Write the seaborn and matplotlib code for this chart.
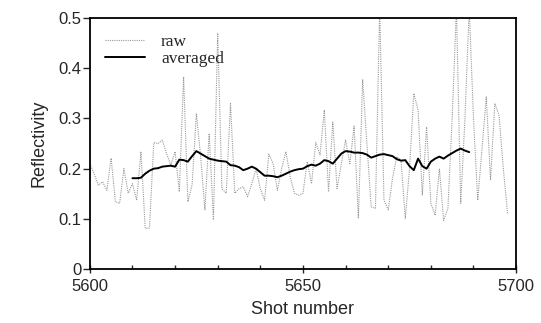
import numpy as np
import pandas as pd
import seaborn as sns
import matplotlib.pyplot as plt

# --- data ---
raw_shot = list(range(5600, 5699))
raw_refl = [
    0.21, 0.19, 0.167, 0.174, 0.157, 0.221, 0.134, 0.131, 0.20, 0.151,
    0.17, 0.137, 0.234, 0.081, 0.082, 0.252, 0.25, 0.257, 0.23, 0.207,
    0.234, 0.154, 0.383, 0.134, 0.168, 0.31, 0.224, 0.118, 0.27, 0.098,
    0.47, 0.16, 0.151, 0.33, 0.151, 0.16, 0.164, 0.144, 0.17, 0.20,
    0.16, 0.137, 0.229, 0.21, 0.157, 0.2, 0.234, 0.184, 0.151, 0.147,
    0.151, 0.214, 0.17, 0.252, 0.227, 0.317, 0.154, 0.293, 0.16, 0.21,
    0.257, 0.21, 0.285, 0.101, 0.378, 0.25, 0.124, 0.121, 0.52, 0.137,
    0.118, 0.18, 0.224, 0.217, 0.101, 0.2, 0.35, 0.317, 0.147, 0.283,
    0.131, 0.107, 0.2, 0.097, 0.121, 0.3, 0.52, 0.131, 0.3, 0.52,
    0.3, 0.137, 0.24, 0.343, 0.177, 0.33, 0.306, 0.2, 0.111,
]

avg_shot = list(range(5610, 5690))
avg_refl = [
    0.181, 0.181, 0.182, 0.19, 0.196, 0.2, 0.201, 0.204, 0.205, 0.206,
    0.204, 0.218, 0.217, 0.214, 0.225, 0.235, 0.23, 0.225, 0.22, 0.218,
    0.216, 0.215, 0.214, 0.207, 0.206, 0.203, 0.197, 0.2, 0.204, 0.2,
    0.193, 0.186, 0.186, 0.185, 0.183, 0.186, 0.19, 0.194, 0.197, 0.199,
    0.2, 0.205, 0.208, 0.206, 0.21, 0.217, 0.215, 0.21, 0.22, 0.23,
    0.235, 0.234, 0.232, 0.232, 0.231, 0.228, 0.222, 0.225, 0.228, 0.229,
    0.227, 0.225, 0.219, 0.216, 0.217, 0.205, 0.197, 0.22, 0.205, 0.2,
    0.214, 0.22, 0.224, 0.22, 0.226, 0.231, 0.236, 0.24, 0.236, 0.233,
]

x_ticks = [5600, 5650, 5700]
y_ticks = [0, 0.1, 0.2, 0.3, 0.4, 0.5]
y_labels = ["0", "0.1", "0.2", "0.3", "0.4", "0.5"]

df_raw = pd.DataFrame({"shot": raw_shot, "refl": raw_refl})
df_avg = pd.DataFrame({"shot": avg_shot, "refl": avg_refl})

sns.set_style("ticks")
plt.rcParams["font.family"] = ["Liberation Sans", "DejaVu Sans"]

fig = plt.figure(figsize=(5.41, 3.23), dpi=100)
ax = fig.add_axes([0.166, 0.167, 0.788, 0.777])

sns.lineplot(data=df_raw, x="shot", y="refl", ax=ax, color="#999999",
             linestyle=(0, (1, 1)), linewidth=0.8, label="raw")
sns.lineplot(data=df_avg, x="shot", y="refl", ax=ax, color="black",
             linewidth=1.4, label="averaged")

ax.set_xlim(5600, 5700)
ax.set_ylim(0, 0.5)
ax.set_xticks(x_ticks)
ax.set_xticks(range(5610, 5700, 10), minor=True)
ax.set_yticks(y_ticks)
ax.set_yticklabels(y_labels)
ax.tick_params(axis="x", which="major", direction="inout", length=6,
               labelsize=12, pad=4, width=1)
ax.tick_params(axis="x", which="minor", direction="in", length=3, width=1)
ax.tick_params(axis="y", direction="out", length=5, labelsize=12, pad=1, width=1)
for s in ax.spines.values():
    s.set_visible(True)
    s.set_linewidth(1.3)
    s.set_color("black")

ax.set_xlabel("Shot number", fontsize=13, labelpad=5)
ax.set_ylabel("Reflectivity", fontsize=13, labelpad=8)

leg = ax.legend(loc="upper left", frameon=False, handlelength=2.3,
                prop={"family": "Liberation Serif", "size": 12.5},
                borderaxespad=0.3, borderpad=0.6, labelspacing=0.05,
                handletextpad=0.9)

fig.savefig("out.png", dpi=100)
